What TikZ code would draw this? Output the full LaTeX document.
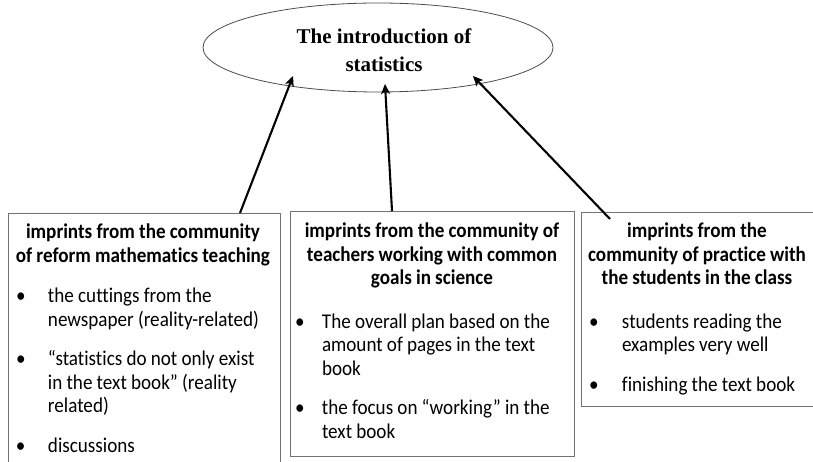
\documentclass[tikz,border=0pt]{standalone}
\usepackage{fontspec}
\setmainfont{Carlito}[FakeStretch=0.91, Ligatures=NoCommon]
\newfontfamily\titlefont{Liberation Serif}
\usetikzlibrary{arrows.meta,shapes.geometric}
\newlength\bulloff
\newlength\txtoff
\newcommand\tightsp{\spaceskip=0.2em plus 0.05em\relax}
\newcommand\bitem[2][15pt]{\par\vspace{#1}\noindent\makebox[\txtoff][l]{\hspace{\bulloff}\textbullet}{\tightsp\begin{tabular}[t]{@{}l@{}}#2\end{tabular}}\par}
\newcommand\boxhead[1]{{\centering\bfseries\tightsp\begin{tabular}[t]{@{}c@{}}#1\end{tabular}\par}}
\newcommand\boxfont{\fontsize{21}{23.5}\selectfont}
\tikzset{
  boxframe/.style={draw=black!55, line width=0.9pt, inner sep=0pt, anchor=north west},
  boxtext/.style={anchor=north, inner sep=0pt, font=\boxfont},
  conn/.style={line width=2.1pt, -{Stealth[length=10pt,width=9pt,inset=2.5pt]}},
}
\begin{document}
\begin{tikzpicture}[x=1pt,y=-1pt]
\useasboundingbox (0,0) rectangle (813,462);
% central ellipse
\node[ellipse, draw=black!70, line width=0.8pt, minimum width=350pt, minimum height=89pt,
      inner sep=0pt] (ell) at (378,47.5) {};
\node[align=center, inner sep=0pt, font=\titlefont\bfseries\fontsize{21}{28}\selectfont]
  (title) at (384,50) {The introduction of\\statistics};
% frames
\node[boxframe, minimum width=272pt, minimum height=262pt] (b1) at (8,213) {};
\node[boxframe, minimum width=284pt, minimum height=245pt] (b2) at (290,211) {};
\node[boxframe, minimum width=260pt, minimum height=194pt] (b3) at (581,212) {};
% texts
\node[boxtext, text width=270pt] (t1) at (143,222) {%
  \setlength\bulloff{8pt}\setlength\txtoff{40pt}\raggedright
  \boxhead{imprints from the community\\of reform mathematics teaching}
  \bitem[16pt]{the cuttings from the\\newspaper (reality-related)}
  \bitem{“statistics do not only exist\\in the text book” (reality\\related)}
  \bitem{discussions}};
\node[boxtext, text width=280pt] (t2) at (432,221) {%
  \setlength\bulloff{3pt}\setlength\txtoff{30pt}\raggedright
  \boxhead{imprints from the community of\\teachers working with common\\goals in science}
  \bitem[19pt]{The overall plan based on the\\amount of pages in the text\\book}
  \bitem{the focus on “working” in the\\text book}};
\node[boxtext, text width=232pt] (t3) at (697,221) {%
  \setlength\bulloff{8pt}\setlength\txtoff{41pt}\raggedright
  \boxhead{imprints from the\\community of practice with\\the students in the class}
  \bitem[19pt]{students reading the\\examples very well}
  \bitem{finishing the text book}};
% target coordinates on the ellipse
\coordinate (e1) at (293,76);
\coordinate (e2) at (385,84);
\coordinate (e3) at (473,76);
% connectors
\draw[conn] ([xshift=232pt]b1.north west) -- (e1);
\draw[conn] ([xshift=102pt]b2.north west) -- (e2);
\draw[conn] ([xshift=29pt,yshift=-7pt]b3.north west) -- (e3);
\end{tikzpicture}
\end{document}
